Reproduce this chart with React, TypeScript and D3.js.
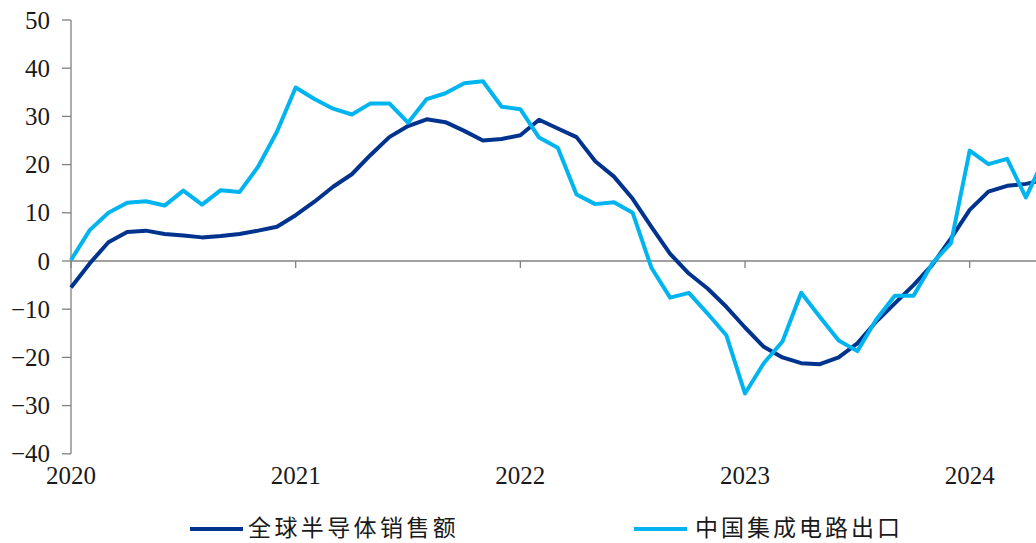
import React from "react";
import * as d3 from "d3";

const yearLabels = ["2020", "2021", "2022", "2023", "2024"];
const yTicks = [-40, -30, -20, -10, 0, 10, 20, 30, 40, 50];

// Monthly, Jan 2020 .. May 2024
const globalSemiSales = [
  -5.5, -0.5, 3.9, 6.0, 6.3, 5.6, 5.3, 4.9, 5.2, 5.6, 6.3, 7.1,
  9.5, 12.3, 15.4, 18.0, 22.0, 25.7, 28.0, 29.4, 28.8, 27.0, 25.0, 25.3,
  26.1, 29.3, 27.5, 25.7, 20.7, 17.5, 12.9, 7.1, 1.5, -2.6, -5.7, -9.5,
  -13.8, -17.8, -20.0, -21.2, -21.4, -20.0, -17.1, -12.6, -8.8, -5.0, -0.8, 4.7,
  10.6, 14.4, 15.6, 16.0, 16.8,
];
const chinaICExports = [
  0.2, 6.4, 10.0, 12.1, 12.4, 11.5, 14.6, 11.7, 14.7, 14.3, 19.6, 26.8,
  36.0, 33.6, 31.6, 30.4, 32.7, 32.7, 28.7, 33.6, 34.8, 36.9, 37.3, 32.0,
  31.5, 25.6, 23.5, 13.8, 11.8, 12.2, 10.0, -1.4, -7.6, -6.6, -10.9, -15.4,
  -27.5, -21.2, -16.7, -6.6, -11.6, -16.5, -18.7, -12.2, -7.2, -7.2, -0.5, 3.7,
  22.9, 20.1, 21.2, 13.2, 21.4,
];
const seriesNames = ["全球半导体销售额", "中国集成电路出口"];

const W = 1036;
const H = 543;

export default function App() {
  const x = d3.scaleLinear().domain([0, 48]).range([71, 969.7]);
  const y = d3.scaleLinear().domain([-40, 50]).range([453.8, 20]);
  const line = d3
    .line<number>()
    .x((_, i) => x(i))
    .y((d) => y(d));

  const axisColor = "#808080";
  const textColor = "#1a1a1a";
  const darkColor = "#00338D";
  const lightColor = "#00B4EF";
  const numFont = "'Liberation Serif', 'Times New Roman', serif";
  const cjkFont = "'Noto Sans CJK SC', sans-serif";

  return (
    <div style={{ position: "absolute", left: 0, top: 0 }}>
      <svg width={W} height={H} style={{ display: "block", background: "#fff" }}>
        <rect x={0} y={0} width={W} height={H} fill="#fff" />
        {/* y axis */}
        <line x1={71} x2={71} y1={y(50)} y2={y(-40)} stroke={axisColor} strokeWidth={1.3} />
        {yTicks.map((t) => (
          <g key={t}>
            <line x1={62} x2={71} y1={y(t)} y2={y(t)} stroke={axisColor} strokeWidth={1.3} />
            <text
              x={50}
              y={y(t)}
              dy="0.34em"
              textAnchor="end"
              fontFamily={numFont}
              fontSize={25}
              fill={textColor}
            >
              {t < 0 ? "\u2212" + Math.abs(t) : String(t)}
            </text>
          </g>
        ))}
        {/* x axis at zero */}
        <line x1={71} x2={W} y1={y(0)} y2={y(0)} stroke={axisColor} strokeWidth={1.3} />
        {yearLabels.map((lab, i) => (
          <g key={lab}>
            <line x1={x(i * 12)} x2={x(i * 12)} y1={y(0)} y2={y(0) + 7} stroke={axisColor} strokeWidth={1.3} />
            <text
              x={x(i * 12)}
              y={484}
              textAnchor="middle"
              fontFamily={numFont}
              fontSize={25}
              fill={textColor}
            >
              {lab}
            </text>
          </g>
        ))}
        {/* series */}
        <path d={line(globalSemiSales) || ""} fill="none" stroke={darkColor} strokeWidth={4} strokeLinejoin="round" />
        <path d={line(chinaICExports) || ""} fill="none" stroke={lightColor} strokeWidth={4} strokeLinejoin="round" />
        {/* legend */}
        <line x1={190} x2={243} y1={529} y2={529} stroke={darkColor} strokeWidth={4} />
        <text x={248} y={535.5} fontFamily={cjkFont} fontSize={23} letterSpacing={3.4} fill={textColor}>
          {seriesNames[0]}
        </text>
        <line x1={634} x2={687} y1={529} y2={529} stroke={lightColor} strokeWidth={4} />
        <text x={695} y={535.5} fontFamily={cjkFont} fontSize={23} letterSpacing={3.0} fill={textColor}>
          {seriesNames[1]}
        </text>
      </svg>
    </div>
  );
}
